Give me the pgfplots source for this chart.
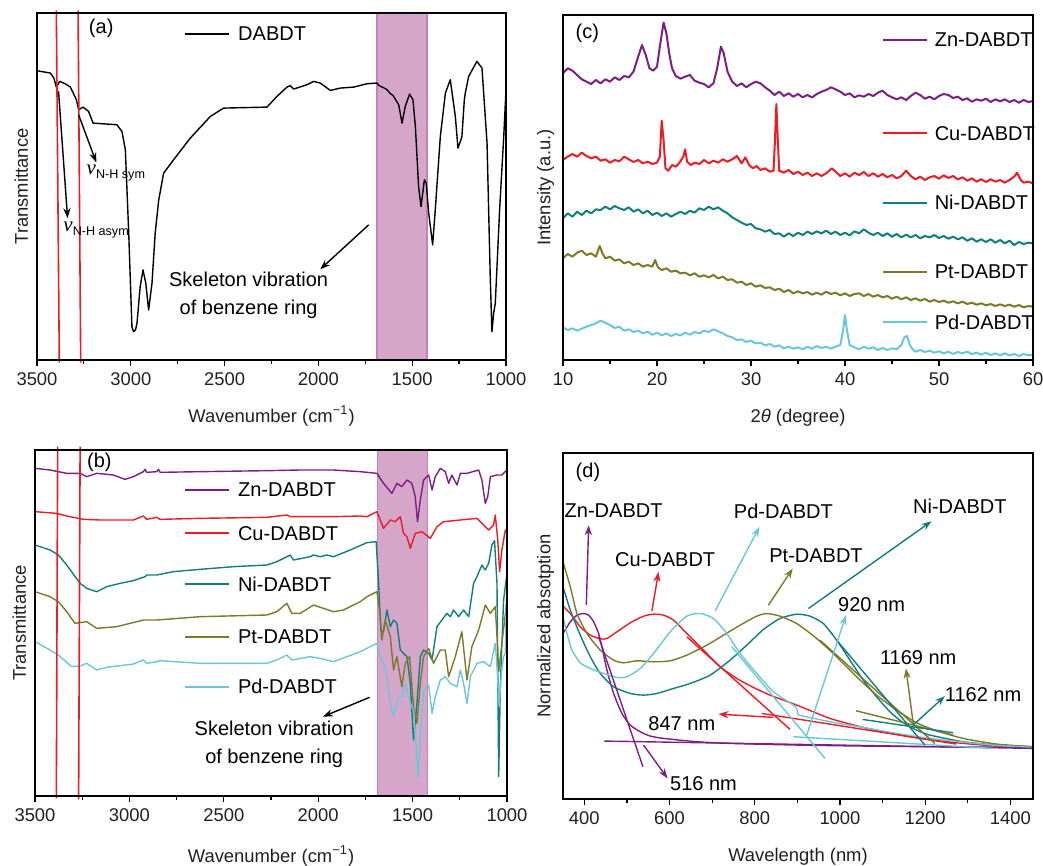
\documentclass[border=0pt]{standalone}
\usepackage{fontspec}
\setmainfont{Liberation Sans}
\newfontfamily\serifit{Liberation Serif}
\usepackage{pgfplots}
\pgfplotsset{compat=1.18}
\usetikzlibrary{arrows.meta}

\definecolor{znc}{RGB}{125,30,130}
\definecolor{cuc}{RGB}{236,28,36}
\definecolor{nic}{RGB}{18,125,125}
\definecolor{ptc}{RGB}{122,122,40}
\definecolor{pdc}{RGB}{105,200,215}
\definecolor{bandfill}{RGB}{214,166,202}
\definecolor{bandedge}{RGB}{196,130,185}
\definecolor{vred}{RGB}{232,30,36}
\definecolor{txt}{RGB}{35,31,32}

\newcommand{\fs}{\fontsize{9.2}{11}\selectfont}
\tikzset{arr/.style={line width=0.7pt, -{Stealth[length=5pt,width=3.6pt]}},
  leg/.style={line width=1.05pt}}

\pgfplotsset{
  panel/.style={
    scale only axis, axis on top, clip=false,
    y dir=reverse, ytick=\empty,
    xtick pos=bottom, tick align=outside,
    major tick length=3pt, minor tick length=1.8pt,
    minor x tick num=1,
    axis line style={line width=0.75pt},
    every tick/.style={black, line width=0.6pt},
    tick label style={font=\fs, text=txt},
    label style={font=\fs, text=txt},
    /pgf/number format/assume math mode=true,
    /pgf/number format/set thousands separator={},
    xlabel style={at={(axis description cs:0.5,0)}, anchor=base, yshift=-31pt},
    ylabel style={at={(axis description cs:-0.018,0.5)}, anchor=south, inner sep=0pt},
    every axis plot/.append style={line width=0.7pt, no marks, line join=round},
    every node/.append style={font=\fs, text=txt},
  }
}

\begin{document}
\begin{tikzpicture}
\useasboundingbox (0,0) rectangle (521.5pt,-433pt);

% ---------------- (a) FTIR of DABDT ----------------
\begin{axis}[panel, at={(18.5pt,-6.5pt)}, anchor=north west,
  width=234.5pt, height=173.5pt,
  x dir=reverse, xmin=1000, xmax=3500, xtick={1000,1500,...,3500},
  ymin=40, ymax=1080,
  xlabel={Wavenumber (cm\textsuperscript{−1})}, ylabel={Transmittance}]
\addplot[draw=bandedge, fill=bandfill, line width=0.6pt] coordinates {(1688,40) (1421,40) (1421,1080) (1688,1080) (1688,40)};
\addplot[black] coordinates {
(3500,213) (3429,220) (3410,235) (3397,262) (3379,245) (3350,252) (3322,262) (3290,300)
(3278,330) (3255,322) (3225,335) (3201,370) (3150,372) (3074,375) (3047,395) (3029,450)
(3011,700) (2994,980) (2985,995) (2975,990) (2967,970) (2950,860) (2935,810) (2920,850)
(2905,930) (2887,850) (2870,700) (2851,600) (2825,520) (2772,480) (2683,415) (2576,350)
(2505,325) (2274,322) (2221,290) (2167,262) (2150,258) (2132,268) (2061,255) (2025,245)
(1990,250) (1936,272) (1883,265) (1812,262) (1741,252) (1688,250) (1675,258) (1660,262)
(1645,266) (1634,270) (1625,276) (1615,282) (1605,286) (1599,290) (1572,315) (1554,370)
(1537,320) (1514,283) (1496,300) (1483,380)
(1466,560) (1453,620) (1435,540) (1425,550) (1412,640) (1403,680) (1391,735) (1377,630)
(1350,410) (1323,280) (1297,240) (1270,350) (1256,445) (1240,420) (1235,410) (1222,300)
(1217,280) (1199,230) (1155,185) (1128,205) (1101,430) (1084,830) (1075,995) (1066,940)
(1057,910) (1034,630) (1012,410) (1000,270)};
\draw[vred, line width=0.8pt] (axis cs:3397,33) -- (axis cs:3381,1088);
\draw[vred, line width=0.8pt] (axis cs:3281,33) -- (axis cs:3267,1088);
\draw[arr] (axis cs:3278,345) -- (axis cs:3184,488);
\draw[arr] (axis cs:3385,275) -- (axis cs:3337,655);
\node[anchor=west, inner sep=0pt] at (axis cs:3237,520) {{\serifit\itshape\fontsize{10.5}{11}\selectfont ν}\raisebox{-2pt}{\fontsize{6.3}{7}\selectfont N-H sym}};
\node[anchor=west, inner sep=0pt] at (axis cs:3361,690) {{\serifit\itshape\fontsize{10.5}{11}\selectfont ν}\raisebox{-2pt}{\fontsize{6.3}{7}\selectfont N-H asym}};
\draw[arr] (axis cs:1732,675) -- (axis cs:1990,808);
\node[align=center, inner sep=0pt] at (axis cs:2372,885) {Skeleton vibration\\[2pt]of benzene ring};
\draw[black, leg] (axis cs:2709,103) -- (axis cs:2478,103);
\node[anchor=west] at (axis cs:2465,103) {DABDT};
\node[anchor=west, inner sep=0pt] at (axis cs:3225,85) {(a)};
\end{axis}

% ---------------- (c) XRD ----------------
\begin{axis}[panel, at={(281.5pt,-7.5pt)}, anchor=north west,
  width=235pt, height=172.5pt,
  xmin=10, xmax=60, xtick={10,20,...,60},
  ymin=45, ymax=1080,
  xlabel={2\textit{θ} (degree)}, ylabel={Intensity (a.u.)},
  every axis plot/.append style={line width=1pt}]
\addplot[znc] coordinates {
(10.0,220) (10.5,205) (11.0,212) (11.5,225) (12.0,238) (12.5,245) (13.0,252) (13.5,240)
(14.0,250) (14.5,238) (15.0,245) (15.5,232) (16.0,240) (16.5,228) (17.0,232) (17.5,215)
(18.0,170) (18.4,135) (18.8,165) (19.2,205) (19.6,212) (20.0,200) (20.3,140) (20.7,68)
(21.0,100) (21.3,160) (21.6,205) (22.0,228) (22.5,236) (23.0,230) (23.5,225) (24.0,242)
(24.5,248) (25.0,252) (25.5,262) (26.0,250) (26.4,205) (26.8,140) (27.1,160) (27.5,215)
(28.0,245) (28.5,258) (29.0,250) (29.5,262) (30.0,252) (30.5,245) (31.0,250) (31.5,262)
(32.0,272) (32.5,285) (33.0,275) (33.5,288) (34.0,280) (34.5,290) (35.0,282) (35.5,292)
(36.0,285) (36.5,292) (37.0,282) (37.5,275) (38.0,270) (38.5,262) (39.0,268) (39.5,275)
(40.0,285) (40.5,280) (41.0,292) (41.5,286) (42.0,290) (42.5,282) (43.0,288) (43.5,278)
(44.0,272) (44.5,285) (45.0,292) (45.5,298) (46.0,292) (46.5,300) (47.0,288) (47.5,278)
(48.0,285) (48.5,296) (49.0,290) (49.5,298) (50.0,288) (50.5,282) (51.0,285) (51.5,294)
(52.0,290) (52.5,300) (53.0,295) (53.5,305) (54.0,298) (54.5,302) (55.0,296) (55.5,306)
(56.0,298) (56.5,304) (57.0,298) (57.5,306) (58.0,300) (58.5,308) (59.0,300) (59.5,306)
(60.0,303)};
\addplot[cuc] coordinates {
(10.0,480) (10.5,470) (11.0,462) (11.5,470) (12.0,458) (12.5,468) (13.0,475) (13.5,470)
(14.0,482) (14.5,478) (15.0,488) (15.5,480) (16.0,484) (16.5,470) (17.0,478) (17.5,486)
(18.0,480) (18.5,490) (19.0,485) (19.5,492) (20.0,488) (20.3,470) (20.5,362) (20.7,420)
(20.9,505) (21.2,512) (21.6,495) (22.0,500) (22.4,488) (22.8,470) (23.0,448) (23.2,485)
(23.6,495) (24.0,488) (24.5,492) (25.0,480) (25.5,490) (26.0,482) (26.5,488) (27.0,478)
(27.5,485) (28.0,478) (28.5,468) (29.0,490) (29.4,472) (29.8,495) (30.2,505) (30.6,498)
(31.0,510) (31.5,505) (32.0,515) (32.4,512) (32.55,420) (32.7,312) (32.85,420) (33.0,512)
(33.5,518) (34.0,510) (34.5,522) (35.0,515) (35.5,525) (36.0,518) (36.5,528) (37.0,520)
(37.5,528) (38.0,520) (38.6,505) (39.0,515) (39.5,528) (40.0,520) (40.5,530) (41.0,518)
(41.5,525) (42.0,516) (42.5,528) (43.0,520) (43.5,530) (44.0,522) (44.5,532) (45.0,525)
(45.5,535) (46.0,528) (46.5,512) (47.0,528) (47.5,538) (48.0,530) (48.5,540) (49.0,532)
(49.5,528) (50.0,536) (50.5,526) (51.0,534) (51.5,528) (52.0,538) (52.5,532) (53.0,542)
(53.5,535) (54.0,545) (54.5,538) (55.0,546) (55.5,538) (56.0,545) (56.5,540) (57.0,548)
(57.5,540) (58.0,530) (58.3,518) (58.7,540) (59.0,548) (59.5,545) (60.0,550)};
\addplot[nic] coordinates {
(10.0,655) (10.5,640) (11.0,650) (11.5,635) (12.0,645) (12.5,632) (13.0,640) (13.5,628)
(14.0,630) (14.5,620) (15.0,628) (15.5,618) (16.0,625) (16.5,630) (17.0,622) (17.5,635)
(18.0,628) (18.5,640) (19.0,632) (19.5,645) (20.0,638) (20.5,648) (21.0,640) (21.5,650)
(22.0,642) (22.5,635) (23.0,642) (23.5,632) (24.0,638) (24.5,625) (25.0,630) (25.5,620)
(26.0,628) (26.5,622) (27.0,632) (27.5,640) (28.0,652) (28.5,660) (29.0,668) (29.5,675)
(30.0,672) (30.5,685) (31.0,688) (31.5,695) (32.0,690) (32.5,702) (33.0,700) (33.5,710)
(34.0,700) (34.5,708) (35.0,698) (35.5,705) (36.0,695) (36.5,702) (37.0,694) (37.5,700)
(38.0,692) (38.5,702) (39.0,695) (39.5,705) (40.0,698) (40.5,706) (41.0,694) (41.5,700)
(42.0,688) (42.5,698) (43.0,705) (43.5,698) (44.0,708) (44.5,700) (45.0,710) (45.5,702)
(46.0,712) (46.5,704) (47.0,712) (47.5,705) (48.0,715) (48.5,708) (49.0,712) (49.5,705)
(50.0,714) (50.5,708) (51.0,716) (51.5,710) (52.0,718) (52.5,712) (53.0,722) (53.5,715)
(54.0,725) (54.5,718) (55.0,726) (55.5,718) (56.0,728) (56.5,720) (57.0,730) (57.5,722)
(58.0,735) (58.5,726) (59.0,732) (59.5,728) (60.0,730)};
\addplot[ptc] coordinates {
(10.0,775) (10.5,762) (11.0,770) (11.5,758) (12.0,752) (12.5,765) (13.0,760) (13.5,770)
(13.9,738) (14.2,760) (14.5,775) (15.0,770) (15.5,782) (16.0,778) (16.5,790) (17.0,785)
(17.5,795) (18.0,790) (18.5,800) (19.0,795) (19.5,800) (19.8,780) (20.1,802) (20.5,810)
(21.0,805) (21.5,815) (22.0,812) (22.5,820) (23.0,818) (23.5,826) (24.0,820) (24.5,830)
(25.0,826) (25.5,832) (26.0,825) (26.5,835) (27.0,830) (27.5,840) (28.0,838) (28.5,848)
(29.0,845) (29.5,855) (30.0,850) (30.5,860) (31.0,856) (31.5,864) (32.0,862) (32.5,870)
(33.0,866) (33.5,876) (34.0,870) (34.5,880) (35.0,874) (35.5,880) (36.0,876) (36.5,884)
(37.0,878) (37.5,884) (38.0,875) (38.5,882) (39.0,878) (39.5,886) (40.0,880) (40.5,888)
(41.0,882) (41.5,880) (42.0,888) (42.5,882) (43.0,890) (43.5,885) (44.0,892) (44.5,888)
(45.0,896) (45.5,890) (46.0,898) (46.5,892) (47.0,900) (47.5,895) (48.0,902) (48.5,897)
(49.0,905) (49.5,900) (50.0,906) (50.5,902) (51.0,908) (51.5,904) (52.0,910) (52.5,905)
(53.0,912) (53.5,908) (54.0,914) (54.5,910) (55.0,916) (55.5,912) (56.0,918) (56.5,913)
(57.0,918) (57.5,914) (58.0,920) (58.5,915) (59.0,922) (59.5,918) (60.0,920)};
\addplot[pdc] coordinates {
(10.0,982) (10.5,990) (11.0,985) (11.5,992) (12.0,986) (12.5,980) (13.0,975) (13.5,970)
(14.0,962) (14.5,968) (15.0,975) (15.5,984) (16.0,980) (16.5,992) (17.0,988) (17.5,996)
(18.0,992) (18.5,1000) (19.0,995) (19.5,1004) (20.0,998) (20.5,1006) (21.0,1000) (21.5,1008)
(22.0,1002) (22.5,1006) (23.0,998) (23.5,1004) (24.0,996) (24.5,1000) (25.0,992) (25.5,996)
(26.0,988) (26.5,994) (27.0,1000) (27.5,1008) (28.0,1012) (28.5,1020) (29.0,1018) (29.5,1026)
(30.0,1022) (30.5,1030) (31.0,1028) (31.5,1036) (32.0,1032) (32.5,1040) (33.0,1036) (33.5,1045)
(34.0,1040) (34.5,1046) (35.0,1042) (35.5,1048) (36.0,1040) (36.5,1046) (37.0,1038) (37.5,1044)
(38.0,1040) (38.5,1046) (39.0,1040) (39.5,1035) (39.8,990) (40.0,945) (40.2,990) (40.5,1035)
(41.0,1042) (41.5,1048) (42.0,1040) (42.5,1046) (43.0,1042) (43.5,1050) (44.0,1044) (44.5,1050)
(45.0,1045) (45.5,1048) (46.0,1035) (46.3,1012) (46.6,1008) (46.9,1035) (47.2,1048) (47.5,1055)
(48.0,1050) (48.5,1056) (49.0,1052) (49.5,1058) (50.0,1054) (50.5,1060) (51.0,1055) (51.5,1062)
(52.0,1056) (52.5,1060) (53.0,1055) (53.5,1062) (54.0,1058) (54.5,1064) (55.0,1058) (55.5,1065)
(56.0,1060) (56.5,1066) (57.0,1060) (57.5,1066) (58.0,1062) (58.5,1068) (59.0,1062) (59.5,1066)
(60.0,1064)};
\draw[znc, leg] (axis cs:44.07,120) -- (axis cs:48.67,120);
\draw[cuc, leg] (axis cs:44.07,400) -- (axis cs:48.67,400);
\draw[nic, leg] (axis cs:44.07,608) -- (axis cs:48.67,608);
\draw[ptc, leg] (axis cs:44.07,815) -- (axis cs:48.67,815);
\draw[pdc, leg] (axis cs:44.07,967) -- (axis cs:48.67,967);
\node[anchor=west] at (axis cs:48.8,120) {Zn-DABDT};
\node[anchor=west] at (axis cs:48.8,400) {Cu-DABDT};
\node[anchor=west] at (axis cs:48.8,608) {Ni-DABDT};
\node[anchor=west] at (axis cs:48.8,815) {Pt-DABDT};
\node[anchor=west] at (axis cs:48.8,967) {Pd-DABDT};
\node[anchor=west, inner sep=0pt] at (axis cs:11.3,100) {(c)};
\end{axis}

% ---------------- (b) FTIR of M-DABDT ----------------
\begin{axis}[panel, at={(17.5pt,-225pt)}, anchor=north west,
  width=236pt, height=173pt,
  x dir=reverse, xmin=1000, xmax=3500, xtick={1000,1500,...,3500},
  ymin=30, ymax=1068,
  xlabel={Wavenumber (cm\textsuperscript{−1})}, ylabel={Transmittance},
  xlabel style={yshift=-2pt}]
\addplot[draw=bandedge, fill=bandfill, line width=0.6pt] coordinates {(1684,30) (1419,30) (1419,1068) (1684,1068) (1684,30)};
\addplot[znc] coordinates {
(3500,85) (3420,90) (3376,95) (3332,100) (3261,100) (3226,110) (3173,100) (3085,105)
(3023,118) (2979,110) (2926,95) (2917,88) (2908,97) (2855,95) (2846,88) (2837,97)
(2625,95) (2272,92) (2095,90) (1919,90) (1777,95) (1689,100) (1654,130) (1610,160)
(1583,130) (1557,140) (1530,120) (1504,130) (1486,170) (1474,245) (1459,180) (1442,120)
(1415,105) (1397,150) (1380,110) (1353,85) (1327,95) (1309,130) (1292,105) (1265,135)
(1247,100) (1212,100) (1150,90) (1133,120) (1115,190) (1102,170) (1088,110) (1053,105)
(1027,105) (1000,90)};
\addplot[cuc] coordinates {
(3500,215) (3385,220) (3332,228) (3244,238) (3155,240) (2979,240) (2926,228) (2908,238)
(2855,232) (2837,238) (2625,235) (2272,232) (2166,225) (2148,230) (1919,230) (1777,228)
(1742,230) (1689,215) (1654,265) (1618,240) (1592,245) (1565,230) (1548,280) (1530,290)
(1512,325) (1486,280) (1450,275) (1406,295) (1371,260) (1336,245) (1247,240) (1159,235)
(1097,270) (1071,255) (1062,225) (1049,300) (1039,395) (1027,330) (1009,270) (1000,270)};
\addplot[nic] coordinates {
(3500,315) (3420,330) (3376,345) (3332,375) (3261,430) (3226,445) (3173,455) (3120,440)
(3049,430) (2979,422) (2917,410) (2908,405) (2855,405) (2767,395) (2625,388) (2449,380)
(2272,375) (2219,365) (2166,350) (2148,345) (2131,360) (2042,350) (2025,345) (1989,350)
(1954,345) (1919,350) (1830,330) (1742,308) (1693,305) (1680,430) (1668,570) (1654,575)
(1636,510) (1618,560) (1601,540) (1583,550) (1565,630) (1548,640) (1530,650) (1512,730)
(1495,900) (1477,790) (1459,650) (1442,630) (1415,640) (1397,660) (1371,560) (1345,540)
(1318,520) (1300,530) (1283,510) (1256,530) (1230,510) (1203,530) (1177,430) (1159,410)
(1133,375) (1115,390) (1097,370) (1080,315) (1066,302) (1053,430) (1044,1010) (1035,730)
(1018,480) (1000,400)};
\addplot[ptc] coordinates {
(3500,455) (3420,470) (3376,485) (3332,515) (3288,550) (3226,545) (3173,565) (3067,560)
(2926,540) (2855,540) (2625,530) (2272,525) (2219,515) (2166,490) (2140,520) (2095,520)
(2025,495) (1972,505) (1919,515) (1866,510) (1813,495) (1777,485) (1742,470) (1689,455)
(1675,510) (1663,600) (1645,540) (1618,590) (1601,690) (1583,650) (1557,740) (1539,670)
(1516,650) (1495,800) (1477,850) (1459,730) (1442,650) (1415,625) (1389,670) (1353,630)
(1327,630) (1309,710) (1274,650) (1239,575) (1212,720) (1186,620) (1150,570) (1115,495)
(1088,520) (1062,500) (1053,590) (1044,695) (1027,610) (1000,480)};
\addplot[pdc] coordinates {
(3500,605) (3420,630) (3376,645) (3306,680) (3261,678) (3226,670) (3173,690) (3120,682)
(2979,672) (2926,660) (2908,670) (2855,665) (2837,662) (2625,670) (2272,670) (2219,660)
(2166,645) (2140,660) (2042,650) (1989,655) (1919,665) (1848,650) (1777,635) (1742,625)
(1689,610) (1671,650) (1645,680) (1618,790) (1601,830) (1574,770) (1557,770) (1539,730)
(1512,790) (1495,810) (1481,930) (1472,1010) (1459,890) (1442,750) (1415,735) (1397,820)
(1380,770) (1353,720) (1327,710) (1300,730) (1265,740) (1247,690) (1230,730) (1212,790)
(1194,710) (1159,670) (1124,665) (1088,680) (1062,610) (1053,680) (1041,800) (1030,700)
(1018,650) (1009,640) (1000,400)};
\draw[vred, line width=0.8pt] (axis cs:3380,20) -- (axis cs:3387,1075);
\draw[vred, line width=0.8pt] (axis cs:3261,20) -- (axis cs:3269,1078);
\draw[znc, leg] (axis cs:2705,150) -- (axis cs:2475,150);
\draw[cuc, leg] (axis cs:2705,280) -- (axis cs:2475,280);
\draw[nic, leg] (axis cs:2705,432) -- (axis cs:2475,432);
\draw[ptc, leg] (axis cs:2705,590) -- (axis cs:2475,590);
\draw[pdc, leg] (axis cs:2705,740) -- (axis cs:2475,740);
\node[anchor=west] at (axis cs:2462,150) {Zn-DABDT};
\node[anchor=west] at (axis cs:2462,280) {Cu-DABDT};
\node[anchor=west] at (axis cs:2462,432) {Ni-DABDT};
\node[anchor=west] at (axis cs:2462,590) {Pt-DABDT};
\node[anchor=west] at (axis cs:2462,740) {Pd-DABDT};
\draw[arr] (axis cs:1728,772) -- (axis cs:1975,830);
\node[align=center, inner sep=0pt] at (axis cs:2233,914) {Skeleton vibration\\[2pt]of benzene ring};
\node[anchor=west, inner sep=0pt] at (axis cs:3226,68) {(b)};
\end{axis}

% ---------------- (d) UV-vis-NIR ----------------
\begin{axis}[panel, at={(281.5pt,-226.5pt)}, anchor=north west,
  width=235pt, height=173pt,
  xmin=350, xmax=1453, xtick={400,600,...,1400},
  ymin=38, ymax=1077,
  xlabel={Wavelength (nm)}, ylabel={Normalized absotption}]
\addplot[znc, smooth, tension=0.4] coordinates {
(350,580) (367.2,545) (382.8,525) (398.4,520) (410.2,525) (421.9,545) (433.6,580) (441.4,620)
(453.1,690) (468.8,760) (488.3,820) (507.8,855) (531.3,875) (554.7,888) (585.9,895) (664.1,905)
(742.2,910) (898.4,915) (1054.7,918) (1210.9,920) (1453.1,922)};
\addplot[cuc, smooth, tension=0.4] coordinates {
(350,498) (367.2,520) (390.6,560) (414.1,585) (437.5,596) (453.1,595) (476.6,575) (507.8,548)
(539.1,528) (562.5,522) (585.9,525) (609.4,540) (640.6,580) (679.7,630) (718.8,680) (757.8,715)
(796.9,742) (835.9,765) (898.4,795) (976.6,835) (1054.7,862) (1132.8,883) (1210.9,899)
(1289.1,910) (1367.2,918) (1453.1,922)};
\addplot[nic, smooth, tension=0.4] coordinates {
(350,440) (367.2,510) (390.6,585) (414.1,650) (437.5,700) (468.8,740) (507.8,760) (539.1,765)
(570.3,760) (609.4,745) (648.4,730) (695.3,705) (742.2,660) (781.3,615) (820.3,568) (859.4,535)
(898.4,522) (929.7,528) (960.9,550) (992.2,600) (1023.4,660) (1054.7,720) (1085.9,770)
(1117.2,815) (1148.4,848) (1179.7,870) (1210.9,885) (1289.1,905) (1367.2,915) (1453.1,920)};
\addplot[ptc, smooth, tension=0.4] coordinates {
(350,365) (367.2,440) (382.8,520) (406.3,580) (437.5,630) (468.8,660) (492.2,668) (523.4,662)
(562.5,665) (601.6,662) (640.6,645) (687.5,615) (726.6,585) (765.6,555) (804.7,528) (828.1,520)
(859.4,528) (898.4,550) (945.3,595) (992.2,650) (1039.1,710) (1085.9,765) (1132.8,810)
(1179.7,848) (1226.6,872) (1289.1,895) (1367.2,912) (1453.1,920)};
\addplot[pdc, smooth, tension=0.4] coordinates {
(350,530) (359.4,580) (371.1,630) (390.6,668) (414.1,685) (445.3,700) (476.6,712) (500,710)
(531.3,685) (562.5,640) (601.6,575) (640.6,528) (671.9,520) (703.1,535) (734.4,580) (765.6,640)
(804.7,700) (843.8,755) (890.6,795) (898.4,805)};
\addplot[pdc, smooth, tension=0.4] coordinates {
(902.3,825) (976.6,845) (1054.7,862)
(1132.8,880) (1210.9,895) (1289.1,906) (1367.2,916) (1453.1,922)};
\addplot[pdc] coordinates {(898.4,805) (902.3,825)};
% tangent and baseline lines
\addplot[znc] coordinates {(433.6,590) (537.5,980)};
\addplot[znc] coordinates {(446.9,903) (1453.1,925)};
\addplot[cuc] coordinates {(640.6,590) (882.8,868)};
\addplot[cuc] coordinates {(816.4,820) (1273.4,912)};
\addplot[pdc] coordinates {(746.1,620) (964.8,955)};
\addplot[pdc] coordinates {(890.6,890) (1359.4,925)};
\addplot[ptc] coordinates {(953.1,600) (1222.7,910)};
\addplot[ptc] coordinates {(1037.5,812) (1265.6,885)};
\addplot[nic] coordinates {(992.2,600) (1199.2,915)};
\addplot[nic] coordinates {(1053.1,838) (1265.6,878)};
% arrows
\draw[arr, znc] (axis cs:404.7,495) -- (axis cs:410.2,255);
\draw[arr, cuc] (axis cs:558.6,512) -- (axis cs:574.2,395);
\draw[arr, pdc] (axis cs:707,512) -- (axis cs:810.9,260);
\draw[arr, ptc] (axis cs:832,495) -- (axis cs:889.1,385);
\draw[arr, nic] (axis cs:925.8,505) -- (axis cs:1214.8,243);
\draw[arr, pdc] (axis cs:921.9,885) -- (axis cs:1014.1,525);
\draw[arr, ptc] (axis cs:1171.9,850) -- (axis cs:1154.7,685);
\draw[arr, nic] (axis cs:1171.9,855) -- (axis cs:1246.1,768);
\draw[arr, cuc] (axis cs:843.8,832) -- (axis cs:714.8,822);
\draw[arr, znc] (axis cs:539.1,915) -- (axis cs:595.3,1015);
% labels
\node at (axis cs:468.8,212) {Zn-DABDT};
\node at (axis cs:589.8,357) {Cu-DABDT};
\node at (axis cs:867.2,212) {Pd-DABDT};
\node at (axis cs:943.8,345) {Pt-DABDT};
\node at (axis cs:1281.3,197) {Ni-DABDT};
\node at (axis cs:1074.2,492) {920 nm};
\node at (axis cs:1183.6,652) {1169 nm};
\node at (axis cs:1335.9,763) {1162 nm};
\node at (axis cs:628.9,852) {847 nm};
\node at (axis cs:679.7,1030) {516 nm};
\node[anchor=west, inner sep=0pt] at (axis cs:378.9,95) {(d)};
\end{axis}
\end{tikzpicture}
\end{document}
